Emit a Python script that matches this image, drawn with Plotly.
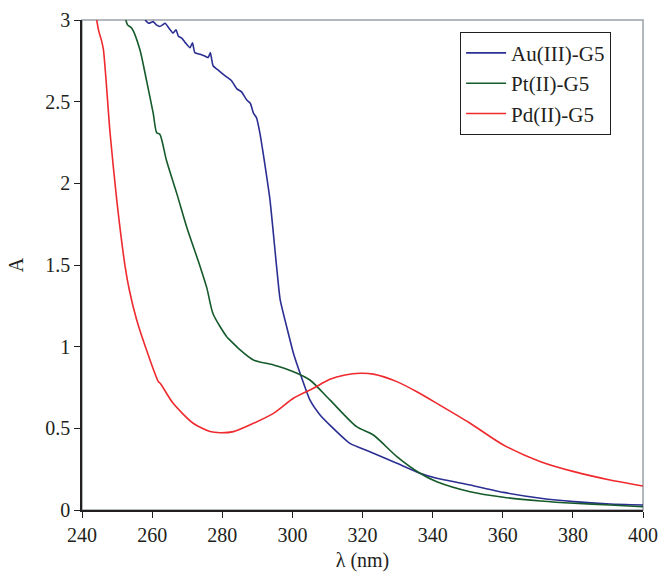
import plotly.graph_objects as go

# Au(III)-G5
au_x = [258.0, 259.0, 260.3, 261.2, 262.2, 263.0, 263.7, 264.8, 266.0, 266.8, 267.5, 268.4, 269.5, 270.8, 271.5, 272.2, 273.7, 275.0, 276.0, 276.6, 277.4,
        279.0, 281.3, 282.6, 284.1, 285.5, 287.0, 288.0, 288.9, 289.8, 290.8, 291.7, 293.6, 295.5, 296.5, 298.4, 300.3,
        302.2, 305.0, 307.9, 310.7, 316.4, 322.1, 329.8, 336.4, 341.2, 350.7, 360.2, 370.8, 380.3, 390.6, 400.0]
au_y = [3.0, 2.98, 2.99, 2.97, 2.96, 2.97, 2.98, 2.95, 2.92, 2.94, 2.90, 2.89, 2.86, 2.83, 2.86, 2.80, 2.79, 2.78, 2.77, 2.80, 2.72,
        2.69, 2.65, 2.63, 2.58, 2.56, 2.51, 2.49, 2.43, 2.40, 2.30, 2.18, 1.90, 1.49, 1.29, 1.12, 0.96,
        0.837, 0.674, 0.582, 0.52, 0.408, 0.357, 0.286, 0.225, 0.194, 0.153, 0.108, 0.072, 0.051, 0.037, 0.031]

# Pt(II)-G5
pt_x = [252.5, 253.0, 254.2, 256.5, 258.4, 260.3, 261.3, 262.2, 264.1, 267.0, 269.9, 273.7, 275.6, 277.4, 281.3, 282.2,
        285.1, 288.9, 294.6, 300.3, 305.0, 310.7, 318.3, 323.1, 329.8, 336.4, 341.2, 350.7, 360.2, 370.8, 380.3, 390.6, 400.0]
pt_y = [3.0, 2.97, 2.95, 2.82, 2.63, 2.43, 2.31, 2.30, 2.14, 1.94, 1.73, 1.49, 1.36, 1.20, 1.06, 1.04,
        0.98, 0.918, 0.888, 0.847, 0.796, 0.674, 0.51, 0.459, 0.327, 0.225, 0.173, 0.112, 0.078, 0.055, 0.041, 0.031, 0.02]

# Pd(II)-G5
pd_x = [244.2, 244.8, 245.5, 246.1, 248.0, 249.9, 252.3, 253.5, 255.6, 258.4, 261.8, 262.3, 266.0, 271.7, 276.5, 279.4, 283.2,
        288.9, 294.6, 300.3, 306.0, 310.7, 315.0, 319.3, 323.1, 329.8, 335.5, 341.2, 350.7, 360.2, 370.8, 380.3, 390.6, 400.0]
pd_y = [3.0, 2.93, 2.88, 2.82, 2.31, 1.90, 1.49, 1.347, 1.163, 0.98, 0.785, 0.776, 0.653, 0.531, 0.48, 0.473, 0.48,
        0.531, 0.592, 0.684, 0.745, 0.80, 0.826, 0.837, 0.832, 0.786, 0.724, 0.653, 0.531, 0.398, 0.296, 0.235, 0.184, 0.147]

x_ticks = [240, 260, 280, 300, 320, 340, 360, 380, 400]
y_ticks = [0, 0.5, 1, 1.5, 2, 2.5, 3]
y_tick_labels = ["0", "0.5", "1", "1.5", "2", "2.5", "3"]

FONT = "Liberation Serif, Times New Roman, serif"
TXT = "#231f20"
fig = go.Figure()
fig.add_trace(go.Scatter(x=au_x, y=au_y, mode="lines", name="Au(III)-G5",
                         line=dict(color="#2b2f92", width=1.6, shape="spline", smoothing=0.5)))
fig.add_trace(go.Scatter(x=pt_x, y=pt_y, mode="lines", name="Pt(II)-G5",
                         line=dict(color="#155a2a", width=1.6, shape="spline", smoothing=0.7)))
fig.add_trace(go.Scatter(x=pd_x, y=pd_y, mode="lines", name="Pd(II)-G5",
                         line=dict(color="#ee2a2e", width=1.6, shape="spline", smoothing=0.7)))

fig.add_shape(type="rect", xref="paper", yref="paper", x0=0, y0=0, x1=1, y1=1,
              line=dict(color="#9aa1a8", width=1.5), layer="below")

fig.update_layout(
    template="none",
    width=662, height=577,
    margin=dict(l=82, r=19, t=20, b=67),
    paper_bgcolor="white", plot_bgcolor="white",
    font=dict(family=FONT, size=20, color=TXT),
    showlegend=True,
    legend=dict(x=0.674, y=0.976, xanchor="left", yanchor="top",
                bordercolor=TXT, borderwidth=1, bgcolor="white",
                font=dict(family=FONT, size=21, color=TXT),
                tracegroupgap=0, itemwidth=40),
    xaxis=dict(range=[240, 400], tickvals=x_ticks, ticks="outside", ticklen=6,
               tickcolor=TXT, showline=True, linecolor=TXT, linewidth=1.5,
               showgrid=False, zeroline=False, automargin=False,
               tickfont=dict(family=FONT, size=20, color=TXT),
               title=dict(text="λ (nm)", font=dict(family=FONT, size=20, color=TXT), standoff=8)),
    yaxis=dict(range=[0, 3], tickvals=y_ticks, ticktext=y_tick_labels, ticks="outside", ticklen=6,
               tickcolor=TXT, showline=True, linecolor=TXT, linewidth=1.5,
               showgrid=False, zeroline=False, automargin=False,
               tickfont=dict(family=FONT, size=20, color=TXT),
               title=dict(text="A", font=dict(family=FONT, size=20, color=TXT), standoff=16)),
)

fig.write_html("out.html", config={"displayModeBar": False},
               post_script="document.body.style.margin='0';")
